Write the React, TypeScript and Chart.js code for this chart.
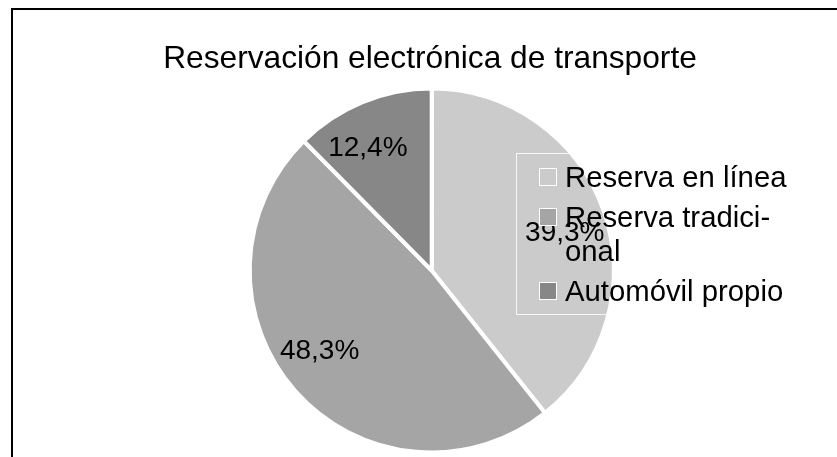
import React, { useEffect, useRef } from "react";
import Chart from "chart.js/auto";

const chartTitle = "Reservación electrónica de transporte";
const categories = ["Reserva en línea", "Reserva tradicional", "Automóvil propio"];
const legendLines = [["Reserva en línea"], ["Reserva tradici-", "onal"], ["Automóvil propio"]];
const values = [39.3, 48.3, 12.4];
const colors = ["#cbcbcb", "#a5a5a5", "#878787"];

const FONT = '"Liberation Sans", Arial, sans-serif';
const W = 837;
const H = 457;
// small angular offsets (radians) of the value labels from each slice's middle
const labelShift = [0.06, 0.1, -0.09];

const fmt = (v: number) => v.toFixed(1).replace(".", ",") + "%";

const decor = {
  id: "decor",
  beforeDraw(chart: any) {
    const ctx = chart.ctx;
    ctx.save();
    ctx.fillStyle = "#ffffff";
    ctx.fillRect(0, 0, W, H);
    ctx.fillStyle = "#000000";
    ctx.fillRect(11, 8, 2, H - 8);
    ctx.fillRect(11, 8, W - 11, 2);
    ctx.restore();
  },
  afterDatasetsDraw(chart: any) {
    const ctx = chart.ctx;
    const meta = chart.getDatasetMeta(0);
    ctx.save();
    // title
    ctx.fillStyle = "#000000";
    ctx.font = `31.7px ${FONT}`;
    ctx.textAlign = "center";
    ctx.textBaseline = "alphabetic";
    ctx.fillText(chartTitle, 430, 68);

    // data labels
    ctx.font = `28px ${FONT}`;
    ctx.textBaseline = "middle";
    meta.data.forEach((arc: any, i: number) => {
      const p = arc.getProps(["x", "y", "startAngle", "endAngle", "outerRadius"], true);
      const a = (p.startAngle + p.endAngle) / 2 + labelShift[i];
      const r = p.outerRadius * 0.76;
      ctx.fillText(fmt(values[i]), p.x + Math.cos(a) * r, p.y + Math.sin(a) * r);
    });

    // legend box
    ctx.strokeStyle = "rgba(255,255,255,0.85)";
    ctx.lineWidth = 1;
    ctx.strokeRect(516.5, 153.5, 285, 161);
    ctx.textAlign = "left";
    ctx.textBaseline = "alphabetic";
    ctx.font = `29.3px ${FONT}`;
    let top = 168;
    categories.forEach((_c, i) => {
      ctx.fillStyle = colors[i];
      ctx.fillRect(540, top + 1, 16, 16);
      ctx.strokeStyle = "#ffffff";
      ctx.strokeRect(539.5, top + 0.5, 17, 17);
      ctx.fillStyle = "#000000";
      legendLines[i].forEach((line, j) => {
        ctx.fillText(line, 565, top + 19 + j * 34);
      });
      top += legendLines[i].length * 34 + 6;
    });
    ctx.restore();
  },
};

export default function App() {
  const ref = useRef<HTMLCanvasElement | null>(null);
  useEffect(() => {
    if (!ref.current) return;
    const chart = new Chart(ref.current, {
      type: "pie",
      data: {
        labels: categories,
        datasets: [
          {
            data: values,
            backgroundColor: colors,
            borderColor: "#ffffff",
            borderWidth: 4,
          },
        ],
      },
      options: {
        responsive: false,
        animation: false,
        devicePixelRatio: 1,
        layout: { padding: { left: 247.7, right: 221.3, top: 86.5, bottom: 2.5 } },
        plugins: {
          legend: { display: false },
          title: { display: false },
          tooltip: { enabled: false },
        },
      },
      plugins: [decor],
    });
    return () => chart.destroy();
  }, []);
  return (
    <div style={{ position: "absolute", left: 0, top: 0, width: W, height: H }}>
      <canvas ref={ref} width={W} height={H} style={{ width: W, height: H, display: "block" }} />
    </div>
  );
}
